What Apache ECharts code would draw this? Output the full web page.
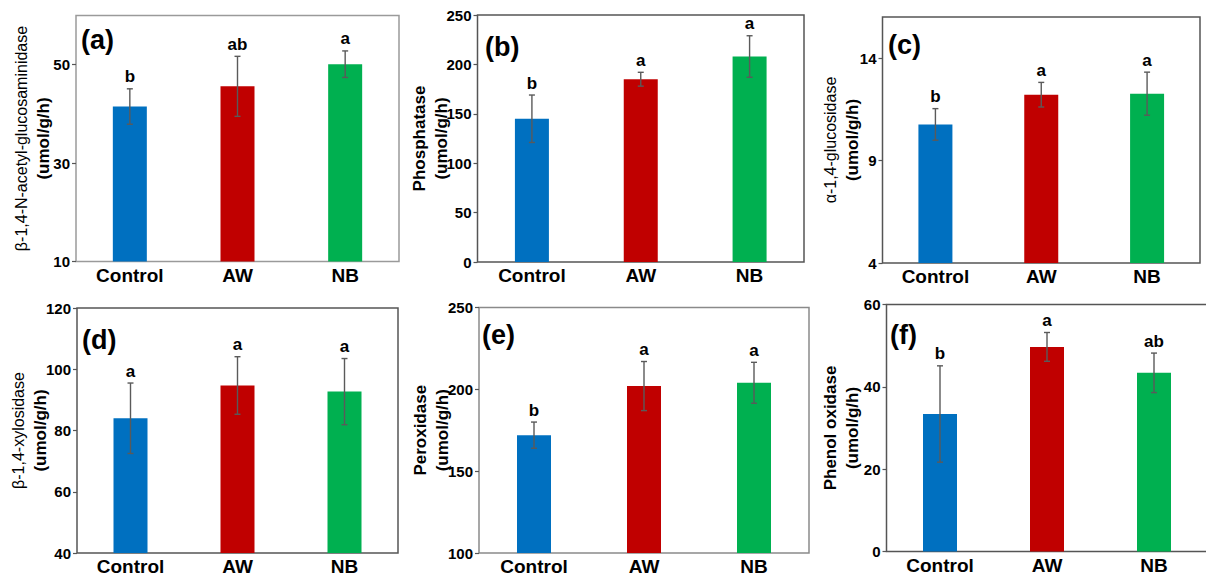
<!DOCTYPE html>
<html>
<head>
<meta charset="utf-8">
<script src="https://cdn.jsdelivr.net/npm/echarts@6/dist/echarts.min.js"></script>
<style>
html,body{margin:0;padding:0;background:#fff;}
#chart{width:1206px;height:578px;}
</style>
</head>
<body>
<div id="chart"></div>
<script>
// ---- data ----
const categories = ['Control', 'AW', 'NB'];
const barColors = ['#0070C0', '#C00000', '#00B050'];

const panelTags = ['(a)', '(b)', '(c)', '(d)', '(e)', '(f)'];
const axisNames = [
  'β-1,4-N-acetyl-glucosaminidase',
  'Phosphatase',
  'α-1,4-glucosidase',
  'β-1,4-xylosidase',
  'Peroxidase',
  'Phenol oxidase'
];
const axisUnit = '(umol/g/h)';

const meansA = [41.5, 45.6, 50.1];
const errA   = [3.6, 6.1, 2.7];
const lettersA = ['b', 'ab', 'a'];

const meansB = [145, 185, 208];
const errB   = [24, 7, 21];
const lettersB = ['b', 'a', 'a'];

const meansC = [10.76, 12.21, 12.26];
const errC   = [0.77, 0.6, 1.05];
const lettersC = ['b', 'a', 'a'];

const meansD = [84, 94.7, 92.7];
const errD   = [11.5, 9.4, 10.8];
const lettersD = ['a', 'a', 'a'];

const meansE = [172, 202, 204];
const errE   = [8, 15, 12.5];
const lettersE = ['b', 'a', 'a'];

const meansF = [33.4, 49.7, 43.4];
const errF   = [11.7, 3.5, 4.8];
const lettersF = ['b', 'a', 'ab'];

// y-axis ranges: [min, max, interval]
const yRanges = [[10, 60, 20], [0, 250, 50], [4, 16, 5], [40, 120, 20], [100, 250, 50], [0, 60, 20]];

// ---- layout (pixels) ----
const FONT = 'Arial, "Liberation Sans", sans-serif';
const grids = [
  {left: 76,  top: 15.5, width: 323, height: 246, border: '#9a9a9a', gap: 22, tag: [81, 26]},
  {left: 477.5, top: 15, width: 326.5, height: 247, border: '#555', gap: 25, tag: [485, 33]},
  {left: 882.5, top: 17, width: 317.5, height: 246, border: '#555', gap: 19, tag: [888, 31]},
  {left: 77,  top: 308, width: 321, height: 245, border: '#555', gap: 26, tag: [82, 326]},
  {left: 479, top: 307.5, width: 330, height: 245.5, border: '#8a8a8a', gap: 26, tag: [482, 321]},
  {left: 886.5, top: 304.5, width: 321, height: 247, border: '#555', gap: 23, tag: [890, 321]}
];

const panels = [
  [meansA, errA, lettersA], [meansB, errB, lettersB], [meansC, errC, lettersC],
  [meansD, errD, lettersD], [meansE, errE, lettersE], [meansF, errF, lettersF]
];

const option = {
  animation: false,
  backgroundColor: '#fff',
  textStyle: {fontFamily: FONT},
  title: [],
  grid: [],
  xAxis: [],
  yAxis: [],
  series: []
};

grids.forEach((g, i) => {
  option.grid.push({
    left: g.left, top: g.top, width: g.width, height: g.height,
    show: true, borderColor: g.border, borderWidth: 1.5, backgroundColor: 'transparent',
    containLabel: false, outerBoundsMode: 'none'
  });
  option.title.push({
    text: panelTags[i], left: g.tag[0], top: g.tag[1], padding: 0,
    textStyle: {fontFamily: FONT, fontSize: 27, fontWeight: 'bold', color: '#000'}
  });
  option.xAxis.push({
    type: 'category', gridIndex: i, data: categories,
    axisLine: {show: false}, axisTick: {show: false},
    axisLabel: {fontFamily: FONT, fontSize: 19, fontWeight: 'bold', color: '#000', margin: 4}
  });
  const r = yRanges[i];
  const boldName = (i === 1 || i === 4 || i === 5);
  option.yAxis.push({
    type: 'value', gridIndex: i, min: r[0], max: r[1], interval: r[2],
    splitLine: {show: false},
    axisLine: {show: false},
    axisTick: {show: true, inside: false, length: 4, lineStyle: {color: '#555', width: 1.2}},
    axisLabel: {fontFamily: FONT, fontSize: 15, fontWeight: 'bold', color: '#000', margin: 6,
      showMaxLabel: (r[1] - r[0]) % r[2] === 0},
    name: '{n|' + axisNames[i] + '}\n{u|' + axisUnit + '}',
    nameLocation: 'middle', nameRotate: 90, nameGap: g.gap, nameMoveOverlap: false,
    nameTextStyle: {
      rich: {
        n: {fontFamily: FONT, fontSize: boldName ? 17 : 16, fontWeight: boldName ? 'bold' : 'normal', color: '#000', lineHeight: 22},
        u: {fontFamily: FONT, fontSize: 17, fontWeight: 'bold', color: '#000', lineHeight: 22}
      }
    }
  });

  const [means, errs, letters] = panels[i];
  option.series.push({
    type: 'bar', xAxisIndex: i, yAxisIndex: i, barWidth: 34,
    data: means.map((v, k) => ({value: v, itemStyle: {color: barColors[k]}})),
    z: 2
  });
  option.series.push({
    type: 'custom', xAxisIndex: i, yAxisIndex: i, z: 3,
    data: means.map((v, k) => [k, v, errs[k]]),
    renderItem: function (params, api) {
      const k = api.value(0), m = api.value(1), e = api.value(2);
      const top = api.coord([k, m + e]);
      const bot = api.coord([k, m - e]);
      const x = top[0];
      const c = 3;
      const st = {stroke: '#5a5a5a', lineWidth: 1.4};
      return {
        type: 'group',
        children: [
          {type: 'line', shape: {x1: x, y1: top[1], x2: x, y2: bot[1]}, style: st},
          {type: 'line', shape: {x1: x - c, y1: top[1], x2: x + c, y2: top[1]}, style: st},
          {type: 'line', shape: {x1: x - c, y1: bot[1], x2: x + c, y2: bot[1]}, style: st},
          {type: 'text', x: x, y: top[1] - 12,
            style: {text: letters[k], fill: '#000', font: 'bold 17px ' + FONT,
              textAlign: 'center', textVerticalAlign: 'middle', align: 'center', verticalAlign: 'middle'}}
        ]
      };
    }
  });
});

const chart = echarts.init(document.getElementById('chart'), null, {renderer: 'svg'});
chart.setOption(option);
</script>
</body>
</html>
